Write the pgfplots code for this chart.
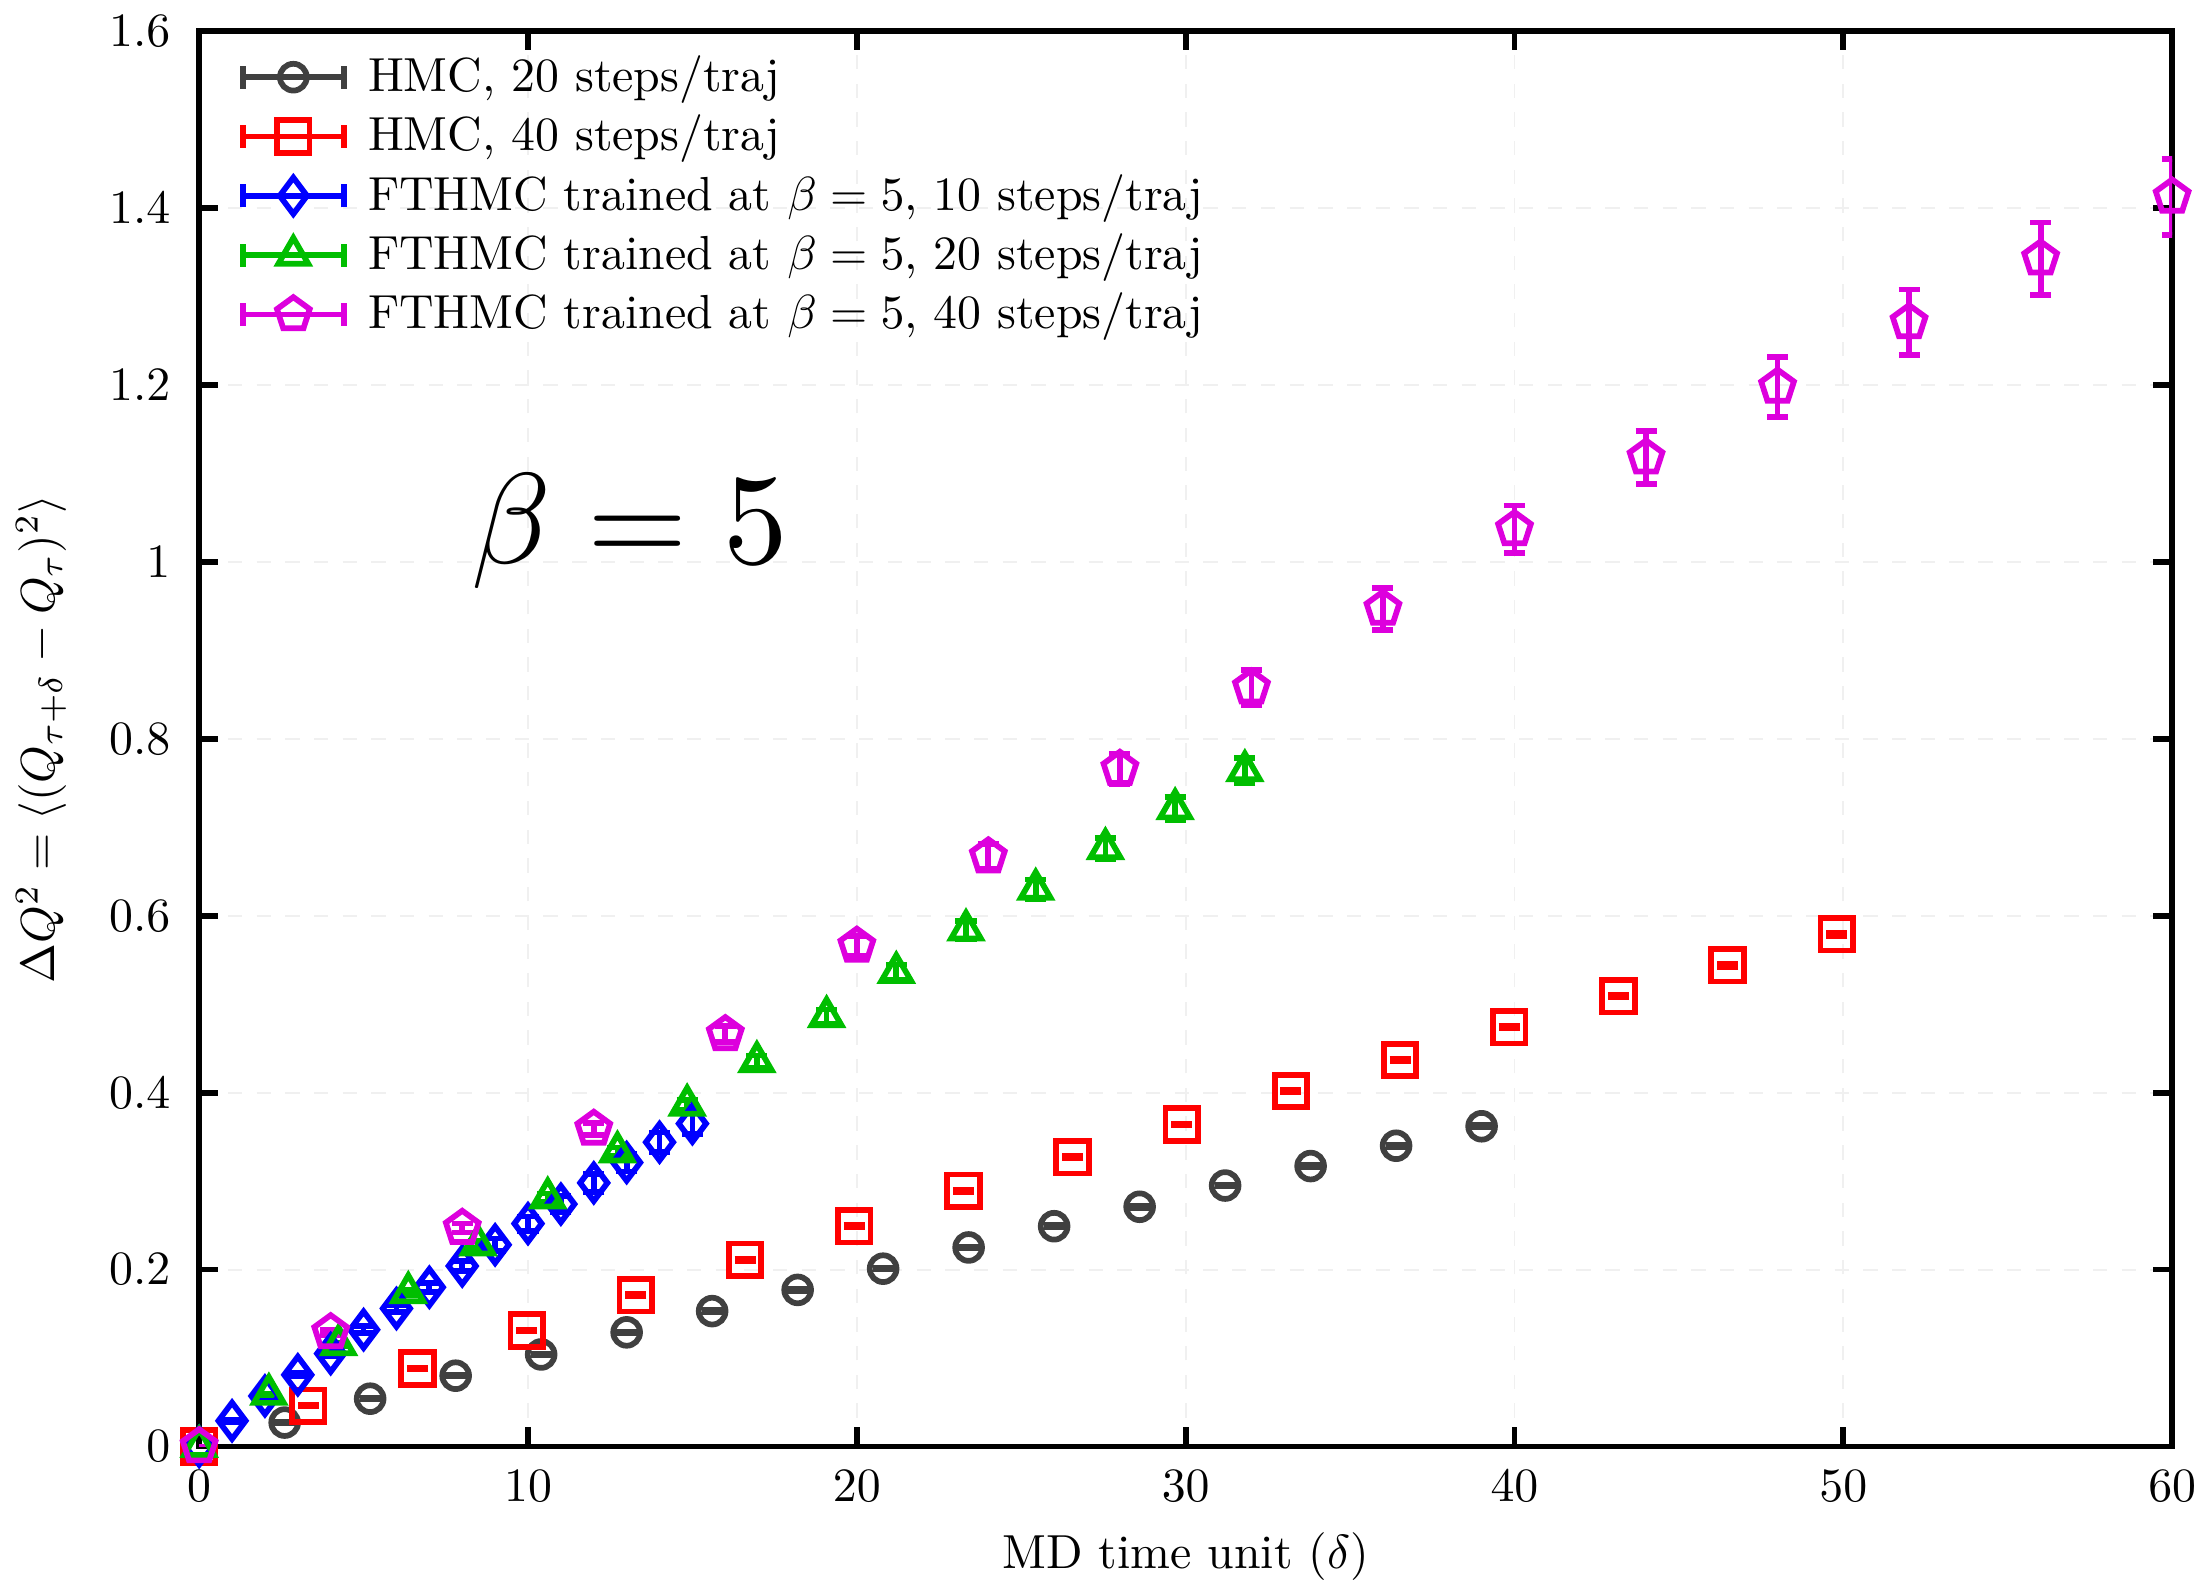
\documentclass[border=0pt]{standalone}
\usepackage{pgfplots}
\pgfplotsset{compat=1.18}
\usetikzlibrary{plotmarks}

\definecolor{cgray}{RGB}{64,64,64}
\definecolor{cred}{RGB}{255,0,0}
\definecolor{cblue}{RGB}{0,0,255}
\definecolor{cgreen}{RGB}{0,190,0}
\definecolor{cmag}{RGB}{221,0,221}

\pgfplotstableread{
x y e
0 0 0
2.6 0.027 0.0008
5.2 0.054 0.0008
7.8 0.080 0.0008
10.4 0.104 0.001
13.0 0.129 0.001
15.6 0.153 0.001
18.2 0.177 0.001
20.8 0.201 0.001
23.4 0.225 0.001
26.0 0.249 0.0012
28.6 0.271 0.0012
31.2 0.295 0.0012
33.8 0.317 0.0012
36.4 0.340 0.0012
39.0 0.362 0.0012
}\hmcA

\pgfplotstableread{
x y e
0 0 0
3.32 0.046 0.0008
6.64 0.088 0.0008
9.96 0.131 0.0008
13.28 0.171 0.001
16.60 0.211 0.001
19.92 0.249 0.001
23.24 0.289 0.001
26.56 0.327 0.0012
29.88 0.364 0.0012
33.20 0.402 0.0012
36.52 0.437 0.0015
39.84 0.474 0.0015
43.16 0.509 0.0015
46.48 0.544 0.0018
49.80 0.579 0.002
}\hmcB

\pgfplotstableread{
x y e
0 0 0
1 0.029 0.001
2 0.057 0.002
3 0.081 0.002
4 0.105 0.003
5 0.132 0.004
6 0.156 0.004
7 0.180 0.005
8 0.204 0.006
9 0.228 0.007
10 0.252 0.008
11 0.274 0.009
12 0.298 0.010
13 0.321 0.010
14 0.344 0.011
15 0.365 0.012
}\fthA

\pgfplotstableread{
x y e
0 0 0
2.12 0.059 0.001
4.24 0.115 0.002
6.36 0.174 0.003
8.48 0.228 0.004
10.60 0.281 0.005
12.72 0.333 0.005
14.84 0.386 0.006
16.96 0.435 0.007
19.08 0.486 0.008
21.20 0.536 0.009
23.32 0.584 0.010
25.44 0.630 0.011
27.56 0.676 0.012
29.68 0.721 0.013
31.80 0.764 0.014
}\fthB

\pgfplotstableread{
x y e
0 0 0
4 0.129 0.003
8 0.247 0.005
12 0.359 0.007
16 0.466 0.009
20 0.566 0.011
24 0.667 0.014
28 0.766 0.017
32 0.858 0.020
36 0.947 0.024
40 1.037 0.027
44 1.118 0.030
48 1.198 0.034
52 1.271 0.037
56 1.343 0.041
60 1.413 0.043
}\fthC

\begin{document}
\begin{tikzpicture}
\begin{axis}[
    scale only axis,
    width=14.5cm,
    height=10.4cm,
    xmin=0, xmax=60,
    ymin=0, ymax=1.6,
    xtick={0,10,...,60},
    ytick={0,0.2,...,1.6},
    axis line style={line width=1.2pt},
    every tick/.style={black, line width=1.2pt},
    major tick length=4pt,
    tick align=inside,
    grid=major,
    grid style={dashed, gray!12, line width=0.4pt},
    yticklabel style={xshift=-2.5pt},
    xticklabel style={yshift=-1.5pt},
    xlabel={MD time unit ($\delta$)},
    ylabel={$\Delta Q^2 = \langle (Q_{\tau+\delta} - Q_\tau)^2 \rangle$},
    xlabel style={inner sep=0pt, yshift=-3pt},
    ylabel style={yshift=2pt},
    legend cell align=left,
    legend style={at={(0.013,0.997)}, anchor=north west, draw=none, fill=none,
        row sep=-0.6pt, /tikz/every odd column/.append style={column sep=2.5pt}},
    legend image code/.code={
        \draw[#1, mark=none, solid, line width=1.2pt] (0cm,0cm) -- (0.74cm,0cm);
        \draw[#1, mark=none, solid, line width=1.2pt] (0cm,-2.4pt) -- (0cm,2.4pt);
        \draw[#1, mark=none, solid, line width=1.2pt] (0.74cm,-2.4pt) -- (0.74cm,2.4pt);
        \draw[#1, only marks] plot coordinates {(0.37cm,0cm)};
    },
    every axis plot/.append style={only marks, line width=1.2pt},
    error bars/y dir=both,
    error bars/y explicit,
    error bars/error bar style={line width=1.2pt, solid},
    error bars/error mark options={rotate=90, mark size=2.2pt, line width=1.2pt},
]
\addplot[cgray, mark=o, mark size=2.8pt, mark options={line width=1.2pt}]
    table[x=x, y=y, y error=e] {\hmcA};
\addlegendentry{HMC, 20 steps/traj}
\addplot[cred, mark=square, mark size=3.4pt, mark options={line width=1.2pt}]
    table[x=x, y=y, y error=e] {\hmcB};
\addlegendentry{HMC, 40 steps/traj}
\addplot[cblue, mark=diamond, mark size=3.8pt, mark options={line width=1.2pt}]
    table[x=x, y=y, y error=e] {\fthA};
\addlegendentry{FTHMC trained at $\beta=5$, 10 steps/traj}
\addplot[cgreen, mark=triangle, mark size=3.6pt, mark options={line width=1.2pt}]
    table[x=x, y=y, y error=e] {\fthB};
\addlegendentry{FTHMC trained at $\beta=5$, 20 steps/traj}
\addplot[cmag, mark=pentagon, mark size=3.6pt, mark options={line width=1.2pt}]
    table[x=x, y=y, y error=e] {\fthC};
\addlegendentry{FTHMC trained at $\beta=5$, 40 steps/traj}
\node at (axis cs:13.1,1.035) {\scalebox{2.7}{$\beta = 5$}};
\end{axis}
\end{tikzpicture}
\end{document}
